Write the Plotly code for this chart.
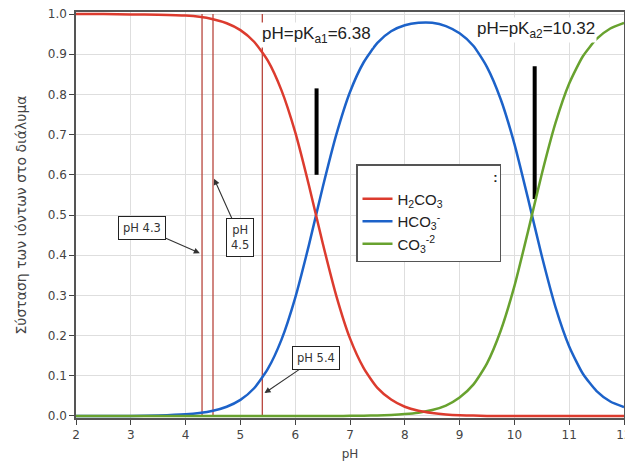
import plotly.graph_objects as go

ph = [2.0, 2.5, 3.0, 3.5, 4.0, 4.25, 4.5, 4.75, 5.0, 5.25, 5.5, 5.75, 6.0, 6.25, 6.5, 6.75,
      7.0, 7.25, 7.5, 7.75, 8.0, 8.25, 8.5, 8.75, 9.0, 9.25, 9.5, 9.75, 10.0, 10.25, 10.5,
      10.75, 11.0, 11.25, 11.5, 11.75, 12.0]
h2co3 = [1.0, 1.0, 0.999, 0.998, 0.996, 0.993, 0.987, 0.977, 0.960, 0.931, 0.884, 0.810,
         0.706, 0.574, 0.431, 0.299, 0.193, 0.119, 0.070, 0.041, 0.023, 0.013, 0.0075, 0.004,
         0.002, 0.001, 0.0, 0.0, 0.0, 0.0, 0.0, 0.0, 0.0, 0.0, 0.0, 0.0, 0.0]
hco3 = [0.0, 0.0, 0.0, 0.0013, 0.0042, 0.0074, 0.013, 0.023, 0.040, 0.069, 0.117, 0.190,
        0.294, 0.425, 0.568, 0.700, 0.806, 0.880, 0.928, 0.957, 0.972, 0.978, 0.978, 0.970,
        0.952, 0.921, 0.868, 0.788, 0.677, 0.540, 0.398, 0.271, 0.173, 0.105, 0.062, 0.036, 0.022]
co3 = [0.0, 0.0, 0.0, 0.0, 0.0, 0.0, 0.0, 0.0, 0.0, 0.0, 0.0, 0.0, 0.0, 0.0, 0.0, 0.0,
       0.0005, 0.0008, 0.0014, 0.0026, 0.0047, 0.0083, 0.0148, 0.026, 0.046, 0.078, 0.131,
       0.212, 0.323, 0.460, 0.602, 0.729, 0.827, 0.895, 0.938, 0.964, 0.978]

series_names = ["H<sub>2</sub>CO<sub>3</sub>", "HCO<sub>3</sub><sup>-</sup>", "CO<sub>3</sub><sup>-2</sup>"]
series_colors = ["#dc3b2e", "#1c62c9", "#68a22f"]
series_values = [h2co3, hco3, co3]
draw_order = [1, 2, 0]  # blue, green, red (red baseline drawn on top)

marker_ph = [4.3, 4.5, 5.4]
pka_marks = [(6.39, 0.60, 0.815), (10.37, 0.54, 0.87)]

x_ticks = [2, 3, 4, 5, 6, 7, 8, 9, 10, 11, 12]
y_ticks = [0.0, 0.1, 0.2, 0.3, 0.4, 0.5, 0.6, 0.7, 0.8, 0.9, 1.0]

fig = go.Figure()

for v in marker_ph:
    fig.add_trace(go.Scatter(x=[v, v], y=[0, 1.0], mode="lines",
                             line=dict(color="#b8453c", width=1.3),
                             showlegend=False, hoverinfo="skip"))

for xv, y0, y1 in pka_marks:
    fig.add_trace(go.Scatter(x=[xv, xv], y=[y0, y1], mode="lines",
                             line=dict(color="black", width=4),
                             showlegend=False, hoverinfo="skip"))

for i in draw_order:
    fig.add_trace(go.Scatter(x=ph, y=series_values[i], mode="lines", name=series_names[i],
                             legendrank=i + 1,
                             line=dict(color=series_colors[i], width=2.5, shape="spline",
                                       smoothing=0.6)))

annots = []
# boxed pH labels with arrows
box_labels = [
    ("pH 4.3", 4.26, 0.405, 3.20, 0.468),
    ("pH<br>4.5", 4.52, 0.59, 5.0, 0.444),
    ("pH 5.4", 5.44, 0.057, 6.38, 0.144),
]
for txt, xh, yh, xt, yt in box_labels:
    annots.append(dict(x=xh, y=yh, ax=xt, ay=yt, axref="x", ayref="y", xref="x", yref="y",
                       text=txt, showarrow=True, arrowhead=2, arrowsize=1.1, arrowwidth=1.1,
                       arrowcolor="#333", bgcolor="white", bordercolor="#222", borderwidth=1,
                       borderpad=4, font=dict(family="DejaVu Sans", size=11.5, color="#333")))

annots.append(dict(x=6.38, y=0.948, xref="x", yref="y", showarrow=False,
                   text="pH=pK<sub>a1</sub>=6.38", bgcolor="white",
                   font=dict(family="Liberation Sans", size=17, color="#222")))
annots.append(dict(x=10.40, y=0.96, xref="x", yref="y", showarrow=False,
                   text="pH=pK<sub>a2</sub>=10.32", bgcolor="white",
                   font=dict(family="Liberation Sans", size=17, color="#222")))

fig.update_layout(
    width=625, height=461,
    margin=dict(l=76, r=1, t=12, b=43, autoexpand=False),
    paper_bgcolor="white", plot_bgcolor="white",
    font=dict(family="DejaVu Sans", size=12, color="#444"),
    annotations=annots,
    legend=dict(x=(356 - 76) / 548, y=1 - (164 - 12) / 406, xanchor="left", yanchor="top",
                bgcolor="white", bordercolor="#555", borderwidth=1.5,
                title=dict(text="&nbsp;" * 37 + "<b>:</b>",
                           font=dict(family="Liberation Sans", size=13, color="#222")),
                font=dict(family="Liberation Sans", size=15, color="#222"),
                itemwidth=30, tracegroupgap=2),
)
fig.update_xaxes(range=[2, 12], tickvals=x_ticks, ticks="outside", ticklen=5,
                 tickcolor="#444", showline=True, linecolor="#555", linewidth=1.5, mirror=True,
                 showgrid=True, gridcolor="#dedede", zeroline=False, automargin=False,
                 ticklabeloverflow="allow",
                 tickfont=dict(size=12, color="#444"),
                 title=dict(text="pH", standoff=10, font=dict(size=12, color="#444")))
fig.update_yaxes(range=[-0.005, 1.005], tickvals=y_ticks, tickformat=".1f", ticks="outside",
                 ticklen=5, tickcolor="#444", showline=True, linecolor="#555", linewidth=1.5,
                 mirror=True, showgrid=True, gridcolor="#dedede", zeroline=False,
                 automargin=False, tickfont=dict(size=12, color="#444"),
                 title=dict(text="Σύσταση των ιόντων στο διάλυμα", standoff=18,
                            font=dict(size=14, color="#444")))

fig.write_html("out.html", config={"displayModeBar": False},
               post_script="document.body.style.margin='0';document.body.style.overflow='hidden';")
